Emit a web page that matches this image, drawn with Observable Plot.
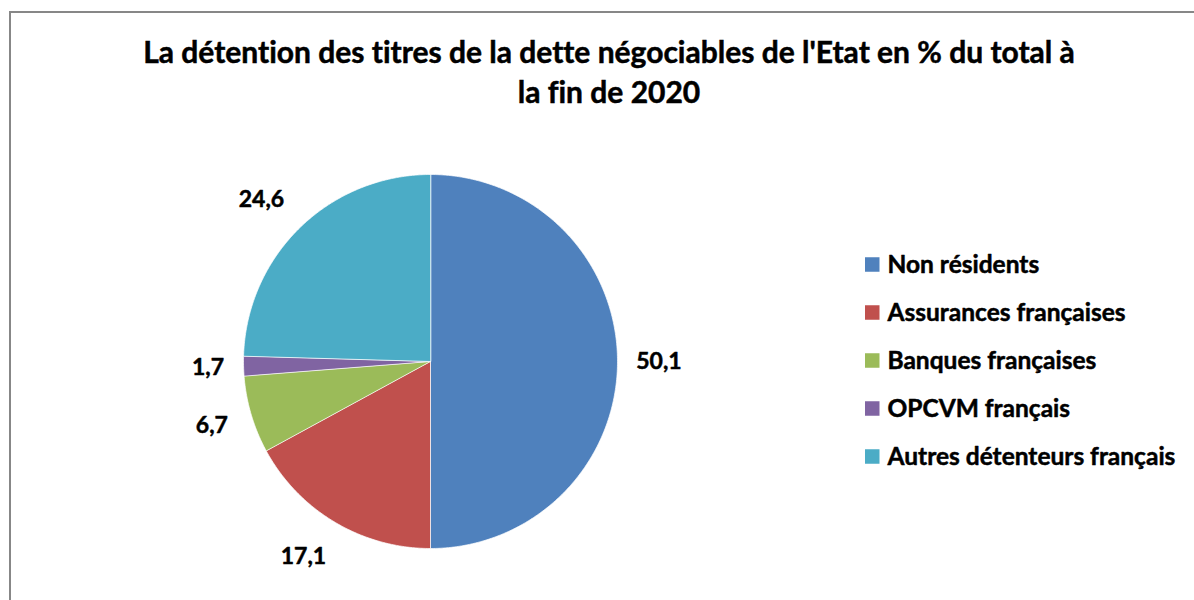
<!DOCTYPE html>
<html>
<head>
<meta charset="utf-8">
<script src="https://cdn.jsdelivr.net/npm/d3@7"></script>
<script src="https://cdn.jsdelivr.net/npm/@observablehq/plot@0.6"></script>
<style>
  html, body { margin: 0; padding: 0; background: #fff; overflow: hidden; }
  #wrap { position: relative; width: 1194px; height: 600px; overflow: hidden; background: #fff; }
  #frame { position: absolute; left: 9px; top: 11px; width: 1300px; height: 700px; border: 2px solid #878787; box-sizing: border-box; }
  #title { position: absolute; left: 0; top: 0; width: 1218px; height: 110px; text-align: center;
           font-family: Lato, "Open Sans", sans-serif; font-weight: bold; font-size: 30px; line-height: 40px;
           padding-top: 31px; box-sizing: border-box; color: #000;
           font-variant-ligatures: none; -webkit-text-stroke: 0.5px #000; }
  #chart { position: absolute; left: 0; top: 110px; }
  #chart text { font-variant-ligatures: none; }
</style>
</head>
<body>
<div id="wrap">
  <div id="frame"></div>
  <div id="title">La détention des titres de la dette négociables de l'Etat en % du total à<br>la fin de 2020</div>
  <div id="chart"></div>
</div>
<script>
// ---- data ----
const categories = ["Non résidents", "Assurances françaises", "Banques françaises", "OPCVM français", "Autres détenteurs français"];
const values = [50.1, 17.1, 6.7, 1.7, 24.6];
const colors = ["#4F81BD", "#C0504D", "#9BBB59", "#8064A2", "#4BACC6"];

// ---- layout ----
const W = 1194, H = 490;
const cx = 430, cy = 251, R = 187, gap = 19;
const fontLabel = 23;

const table = categories.map((name, i) => ({name, value: values[i], label: String(values[i]).replace(".", ",")}));
const arcs = d3.pie().sort(null).value(d => d.value).startAngle(0).endAngle(2 * Math.PI)(table);

// slice outlines built from the pie angles
const pts = [];
for (const a of arcs) {
  const n = Math.max(4, Math.ceil((a.endAngle - a.startAngle) / (Math.PI / 360)));
  pts.push({name: a.data.name, x: cx, y: cy});
  for (let k = 0; k <= n; k++) {
    const t = a.startAngle + (a.endAngle - a.startAngle) * k / n;
    pts.push({name: a.data.name, x: cx + R * Math.sin(t), y: cy - R * Math.cos(t)});
  }
}

// labels outside the pie
function textWidth(s) { let w = 0; for (const c of s) w += (c === "," ? 0.27 : 0.56) * fontLabel; return w; }
const labelPts = arcs.map(a => {
  const m = (a.startAngle + a.endAngle) / 2;
  const dx = Math.sin(m), dy = -Math.cos(m);
  const hw = textWidth(a.data.label) / 2, hh = 9;
  const d = R + gap + hw * Math.abs(dx) + hh * Math.abs(dy);
  return {label: a.data.label,
          x: cx + d * dx + 14 * Math.sign(dx) * Math.abs(dy),
          y: cy + d * dy + 3 * Math.abs(dx) * Math.abs(dy)};
});

// legend
const legX = 865, legY0 = 154.5, legStep = 48, sw = 14.5;
const legend = categories.map((name, i) => ({name, y: legY0 + i * legStep}));

const chart = Plot.plot({
  width: W, height: H,
  margin: 0,
  x: {type: "identity", axis: null},
  y: {type: "identity", axis: null},
  color: {domain: categories, range: colors},
  style: {fontFamily: "Lato, 'Open Sans', sans-serif", background: "transparent"},
  marks: [
    Plot.line(pts, {x: "x", y: "y", z: "name", fill: "name", stroke: "#ffffff", strokeOpacity: 0.7, strokeWidth: 1, curve: "linear-closed"}),
    Plot.text(labelPts, {x: "x", y: "y", text: "label", fontSize: fontLabel, fontWeight: "bold", fill: "#000", stroke: "#000", strokeWidth: 0.5, textAnchor: "middle"}),
    Plot.rect(legend, {x1: () => legX, x2: () => legX + sw, y1: d => d.y - sw / 2, y2: d => d.y + sw / 2, fill: "name"}),
    Plot.text(legend, {x: () => legX + 22, y: "y", text: "name", fontSize: 24.5, fontWeight: "bold", fill: "#000", stroke: "#000", strokeWidth: 0.5, textAnchor: "start"})
  ]
});
document.getElementById("chart").appendChild(chart);
</script>
</body>
</html>
